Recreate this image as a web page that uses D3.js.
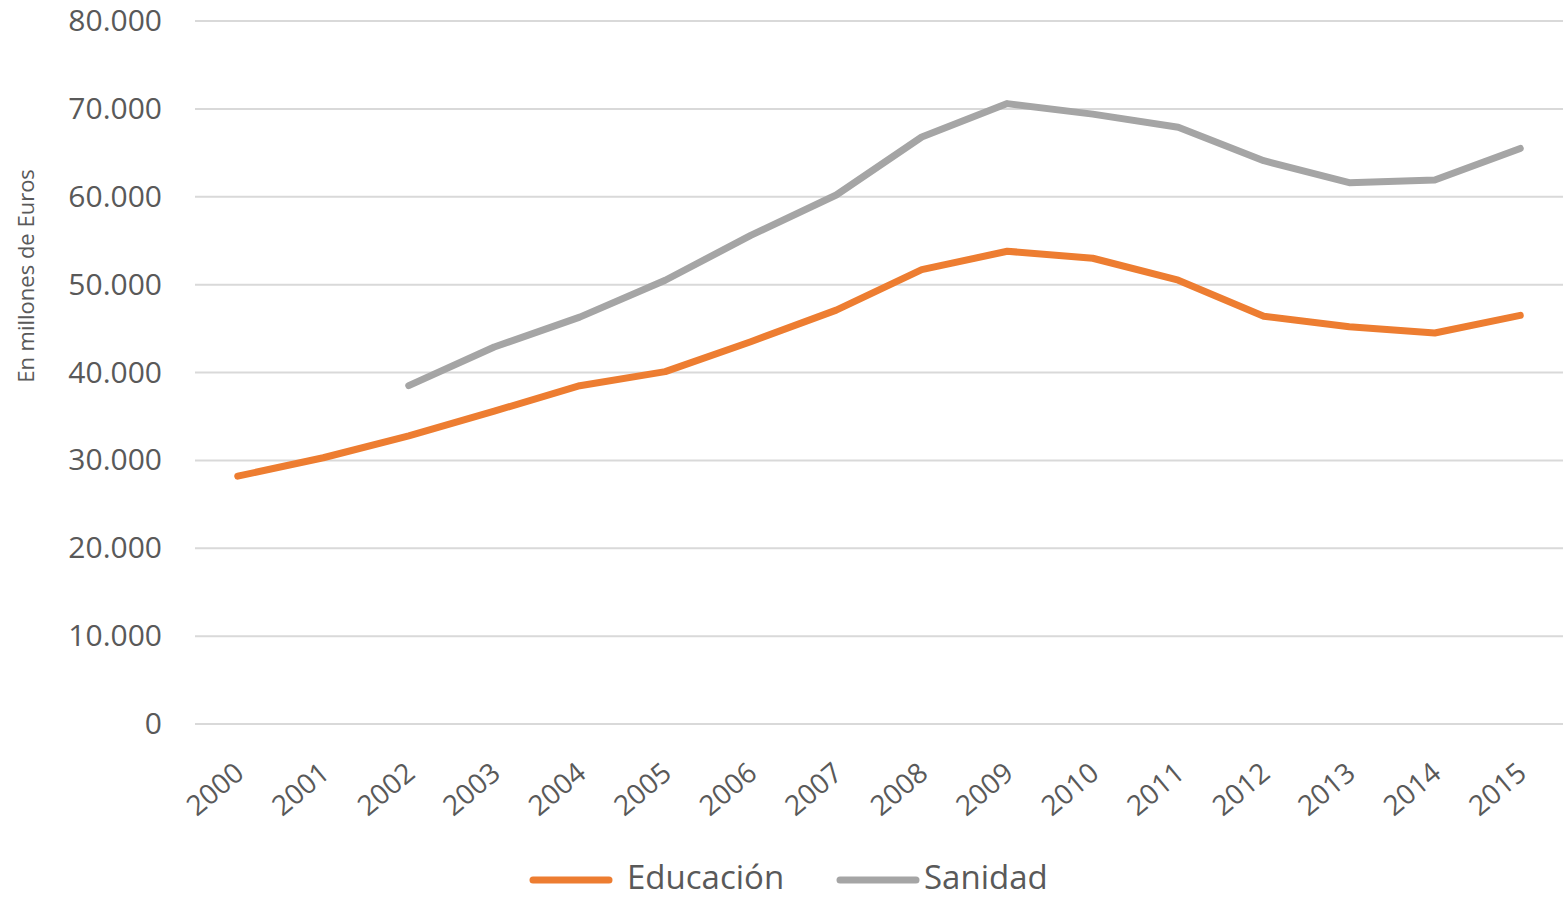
<!DOCTYPE html>
<html>
<head>
<meta charset="utf-8">
<script src="https://cdn.jsdelivr.net/npm/d3@7"></script>
<style>
  body { margin: 0; background: #fff; }
  text { font-family: "Open Sans", sans-serif; fill: #595959; }
</style>
</head>
<body>
<svg id="chart" width="1563" height="899"></svg>
<script>
// data (millones de euros)
const years = ["2000","2001","2002","2003","2004","2005","2006","2007","2008","2009","2010","2011","2012","2013","2014","2015"];
const educacion = [28200, 30300, 32800, 35600, 38500, 40100, 43500, 47100, 51700, 53800, 53000, 50500, 46400, 45200, 44500, 46500];
const sanidad = [null, null, 38500, 42900, 46300, 50500, 55600, 60200, 66800, 70600, 69400, 67900, 64100, 61600, 61900, 65500];
const yTicks = [0, 10000, 20000, 30000, 40000, 50000, 60000, 70000, 80000];

const svg = d3.select("#chart");
const margin = {top: 21, right: 0, bottom: 175, left: 195};
const width = 1563 - margin.left - margin.right;
const height = 899 - margin.top - margin.bottom;

const g = svg.append("g").attr("transform", `translate(${margin.left},${margin.top})`);

const x = d3.scaleBand().domain(years).range([0, width]);
const y = d3.scaleLinear().domain([0, 80000]).range([height, 0]);

const fmt = d3.formatLocale({decimal: ",", thousands: ".", grouping: [3], currency: ["", "€"]}).format(",");

// gridlines
g.selectAll(".grid")
  .data(yTicks)
  .enter().append("line")
  .attr("x1", 0).attr("x2", width)
  .attr("y1", d => y(d)).attr("y2", d => y(d))
  .attr("stroke", "#d9d9d9")
  .attr("stroke-width", 2);

// y axis labels
const yAxis = g.append("g")
  .call(d3.axisLeft(y).tickValues(yTicks).tickFormat(d => fmt(d)).tickSize(0).tickPadding(33));
yAxis.select(".domain").remove();
yAxis.selectAll("text")
  .style("font-size", "30px")
  .style("font-family", "'Open Sans', sans-serif")
  .attr("fill", "#595959");

// x axis labels
const xAxis = g.append("g")
  .attr("transform", `translate(0,${height})`)
  .call(d3.axisBottom(x).tickSize(0).tickPadding(0));
xAxis.select(".domain").remove();
xAxis.selectAll("text")
  .style("font-size", "28px")
  .style("font-family", "'Open Sans', sans-serif")
  .attr("fill", "#595959")
  .style("text-anchor", "end")
  .attr("dy", "0")
  .attr("transform", "translate(8,52) rotate(-40)");

// y title
svg.append("text")
  .attr("transform", "rotate(-90)")
  .attr("x", -276)
  .attr("y", 34)
  .style("text-anchor", "middle")
  .style("font-size", "22px")
  .text("En millones de Euros");

const line = d3.line()
  .defined(d => d != null)
  .x((d, i) => x(years[i]) + x.bandwidth() / 2)
  .y(d => y(d));

const series = [
  {name: "Educación", values: educacion, color: "#ED7D31"},
  {name: "Sanidad", values: sanidad, color: "#A5A5A5"}
];

g.selectAll(".series")
  .data(series)
  .enter().append("path")
  .attr("class", "series")
  .attr("fill", "none")
  .attr("stroke", d => d.color)
  .attr("stroke-width", 7)
  .attr("stroke-linecap", "round")
  .attr("stroke-linejoin", "round")
  .attr("d", d => line(d.values));

// legend
const legendPos = [533, 840];
const legend = svg.selectAll(".legend")
  .data(series)
  .enter().append("g")
  .attr("transform", (d, i) => `translate(${legendPos[i]},880)`);
legend.append("line")
  .attr("x1", 0).attr("x2", 76)
  .attr("stroke", d => d.color)
  .attr("stroke-width", 7)
  .attr("stroke-linecap", "round");
legend.append("text")
  .attr("x", (d, i) => i === 0 ? 94 : 84)
  .attr("y", 9)
  .style("font-size", "33px")
  .text(d => d.name);
</script>
</body>
</html>
